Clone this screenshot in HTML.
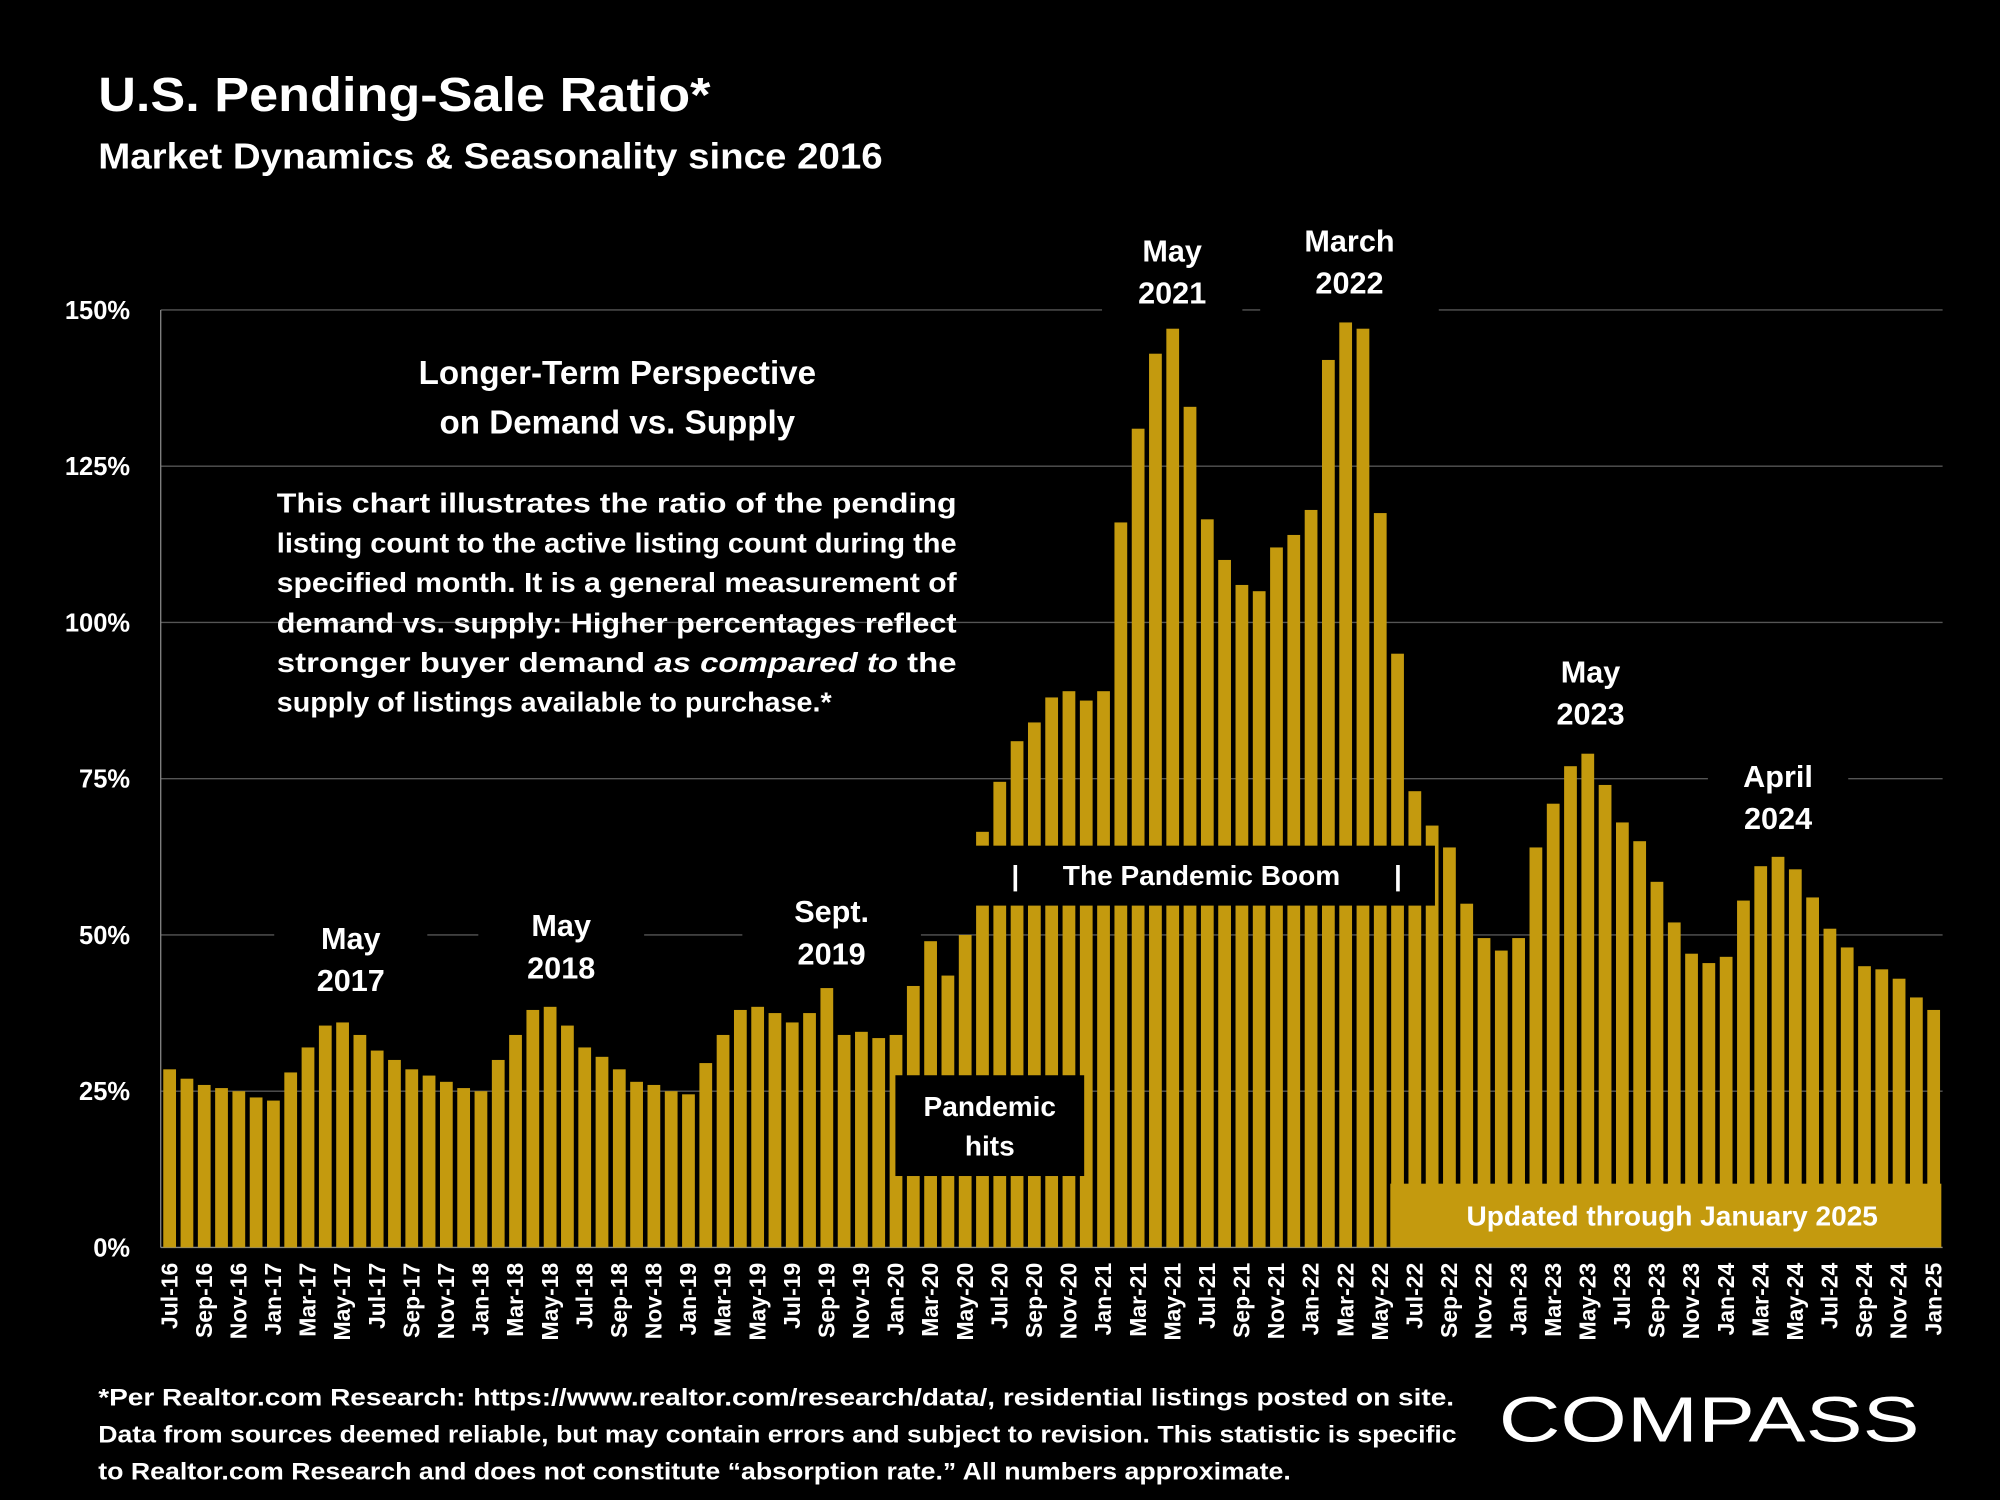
<!DOCTYPE html>
<html><head><meta charset="utf-8"><style>
html,body{margin:0;padding:0;background:#000;}
svg{display:block;}
text{font-family:"Liberation Sans",sans-serif;font-weight:bold;fill:#fff;}
</style></head><body>
<svg id="chart" width="2000" height="1500" viewBox="0 0 1568 1176" xmlns="http://www.w3.org/2000/svg">
<rect width="1568" height="1176" fill="#000"/>
<text x="77" y="87" font-size="38" textLength="480" lengthAdjust="spacingAndGlyphs">U.S. Pending-Sale Ratio*</text>
<text x="77" y="132" font-size="28" textLength="615" lengthAdjust="spacingAndGlyphs">Market Dynamics &amp; Seasonality since 2016</text>
<g id="grid"></g>
<g id="bars"></g>
<g id="xlabels"></g>
<g id="ylabels"></g>
<g id="notes">
<text x="484" y="301" font-size="26" text-anchor="middle">Longer-Term Perspective</text>
<text x="484" y="340" font-size="26" text-anchor="middle">on Demand vs. Supply</text>
<g font-size="22">
<text x="217" y="402" textLength="533" lengthAdjust="spacingAndGlyphs">This chart illustrates the ratio of the pending</text>
<text x="217" y="433" textLength="533" lengthAdjust="spacingAndGlyphs">listing count to the active listing count during the</text>
<text x="217" y="464" textLength="533" lengthAdjust="spacingAndGlyphs">specified month. It is a general measurement of</text>
<text x="217" y="496" textLength="533" lengthAdjust="spacingAndGlyphs">demand vs. supply:  Higher percentages reflect</text>
<text x="217" y="527" textLength="533" lengthAdjust="spacingAndGlyphs">stronger buyer demand <tspan font-style="italic">as compared to</tspan> the</text>
<text x="217" y="558" textLength="435" lengthAdjust="spacingAndGlyphs">supply of listings available to purchase.*</text>
</g>
</g>
<g id="annotations"></g>
<g font-size="19">
<text x="77" y="1102" textLength="1063" lengthAdjust="spacingAndGlyphs">*Per Realtor.com Research:  https://www.realtor.com/research/data/, residential listings posted on site.</text>
<text x="77" y="1131" textLength="1065" lengthAdjust="spacingAndGlyphs">Data from sources deemed reliable, but may contain errors and subject to revision. This statistic is specific</text>
<text x="77" y="1160" textLength="935" lengthAdjust="spacingAndGlyphs">to Realtor.com Research and does not constitute “absorption rate.” All numbers approximate.</text>
</g>
<text x="1175" y="1130" font-size="50" textLength="330" lengthAdjust="spacingAndGlyphs" style="font-weight:normal">COMPASS</text>
</svg>
<script>
const categories=[];
for(let i=0;i<103;i++){const m=(6+i)%12;const y=16+Math.floor((6+i)/12);categories.push(["Jan","Feb","Mar","Apr","May","Jun","Jul","Aug","Sep","Oct","Nov","Dec"][m]+"-"+y);}
const values=[28.5,27,26,25.5,25,24,23.5,28,32,35.5,36,34,31.5,30,28.5,27.5,26.5,25.5,25,30,34,38,38.5,35.5,32,30.5,28.5,26.5,26,25,24.5,29.5,34,38,38.5,37.5,36,37.5,41.5,34,34.5,33.5,34,44,49,43.5,50,66.5,74.5,81,84,88,89,87.5,89,116,131,143,147,134.5,116.5,110,106,105,112,114,118,142,148,147,117.5,95,73,67.5,64,55,49.5,47.5,49.5,64,71,77,79,74,68,65,58.5,52,47,45.5,46.5,55.5,61,62.5,60.5,56,51,48,45,44.5,43,40,38];
const yTicks=[0,25,50,75,100,125,150];
const yTickLabels=["0%","25%","50%","75%","100%","125%","150%"];
const NS="http://www.w3.org/2000/svg";
const y0=978,yTop=243,x0=133,dx=(1516-133)/102,bw=10;
const yS=v=>y0-(v/150)*(y0-yTop);
const xS=i=>x0+i*dx;
function mk(t,a,p){const e=document.createElementNS(NS,t);for(const k in a)e.setAttribute(k,a[k]);p.appendChild(e);return e;}
const grid=document.getElementById('grid'),bars=document.getElementById('bars'),xl=document.getElementById('xlabels'),yl=document.getElementById('ylabels'),ann=document.getElementById('annotations');
yTicks.forEach((t,i)=>{
 const l=mk('line',{x1:126,x2:1523,y1:yS(t),y2:yS(t),stroke:t===0?'#888':'#555','stroke-width':1},grid);
 
 
 const tx=mk('text',{x:102,y:yS(t)+7,'font-size':20,'text-anchor':'end'},yl);tx.textContent=yTickLabels[i];
 
 
});
const ax=mk('line',{x1:126,x2:126,y1:yTop,y2:y0,stroke:'#888','stroke-width':1},grid);


values.forEach((v,i)=>{
 const r=mk('rect',{x:xS(i)-bw/2,y:yS(v),width:bw,height:y0-yS(v),fill:'#c49a0e'},bars);
 
 
 if(i%2===0){const cx=xS(i)+6;const t=mk('text',{x:cx,y:990,'font-size':18,'text-anchor':'end',transform:`rotate(-90 ${cx} 990)`},xl);t.textContent=categories[i];
 
 }
});
function label(name,lines,cx,y1,w){
 const g=mk('g',{},ann);
 
 
 mk('rect',{x:cx-w/2,y:y1-28,width:w,height:lines.length*33+12,fill:'#000'},g);
 lines.forEach((s,k)=>{const t=mk('text',{x:cx,y:y1+k*33,'font-size':24,'text-anchor':'middle'},g);t.textContent=s;});
}
label('label-may-2017',['May','2017'],275,744,120);
label('label-may-2018',['May','2018'],440,734,130);
label('label-sept-2019',['Sept.','2019'],652,723,140);
label('label-may-2021',['May','2021'],919,205,110);
label('label-march-2022',['March','2022'],1058,197,140);
label('label-may-2023',['May','2023'],1247,535,110);
label('label-april-2024',['April','2024'],1394,617,110);
let g=mk('g',{},ann);


mk('rect',{x:765,y:663,width:360,height:47,fill:'#000'},g);
let t=mk('text',{x:796,y:694,'font-size':22,'text-anchor':'middle'},g);t.textContent='|';
t=mk('text',{x:942,y:694,'font-size':22,'text-anchor':'middle'},g);t.textContent='The Pandemic Boom';
t=mk('text',{x:1096,y:694,'font-size':22,'text-anchor':'middle'},g);t.textContent='|';
g=mk('g',{},ann);


mk('rect',{x:702,y:843,width:148,height:79,fill:'#000'},g);
t=mk('text',{x:776,y:875,'font-size':22,'text-anchor':'middle'},g);t.textContent='Pandemic';
t=mk('text',{x:776,y:906,'font-size':22,'text-anchor':'middle'},g);t.textContent='hits';
g=mk('g',{},ann);


mk('rect',{x:1090,y:928,width:432,height:50,fill:'#c49a0e'},g);
t=mk('text',{x:1311,y:961,'font-size':22,'text-anchor':'middle'},g);t.textContent='Updated through January 2025';
</script>
</body></html>
